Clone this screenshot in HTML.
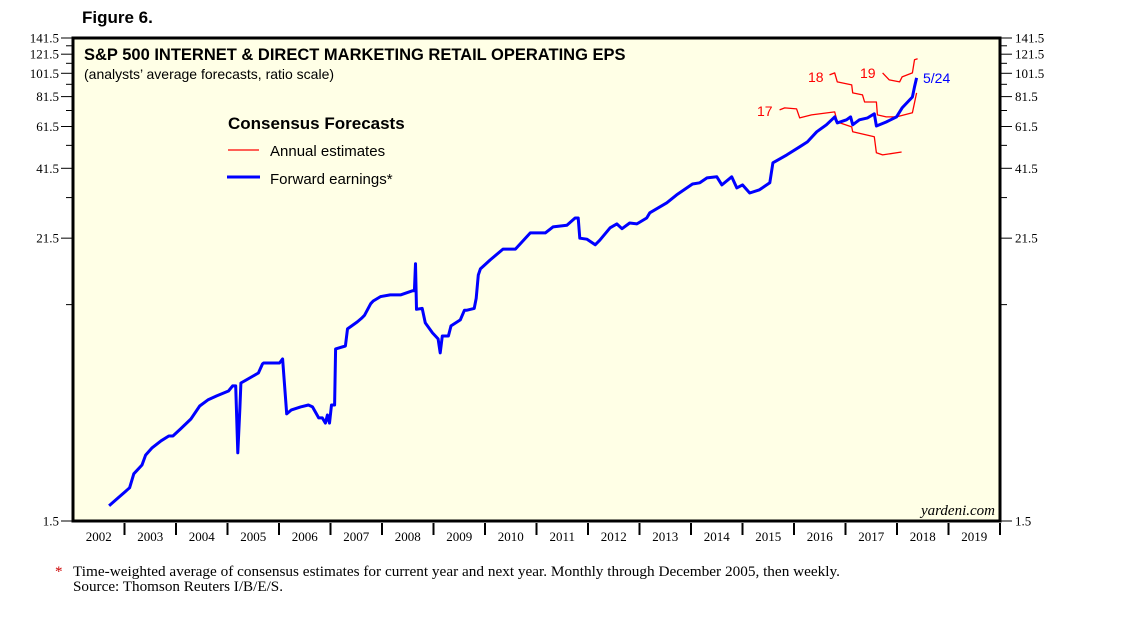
<!DOCTYPE html>
<html><head><meta charset="utf-8"><style>
html,body{margin:0;padding:0;background:#fff;width:1138px;height:621px;overflow:hidden}
svg text{font-family:"Liberation Sans",sans-serif}
.serif{font-family:"Liberation Serif",serif !important}
</style></head><body>
<svg id="chart" width="1138" height="621" xmlns="http://www.w3.org/2000/svg">
<text x="82" y="23" font-size="17" font-weight="bold">Figure 6.</text>
<rect x="73" y="38" width="927" height="483" fill="#ffffe6" stroke="#000" stroke-width="3"/>
<text x="84" y="60" font-size="16.5" font-weight="bold">S&amp;P 500 INTERNET &amp; DIRECT MARKETING RETAIL OPERATING EPS</text>
<text x="84" y="79" font-size="14">(analysts’ average forecasts, ratio scale)</text>
<g>
<text x="228" y="129" font-size="17" font-weight="bold">Consensus Forecasts</text>
<line x1="228" y1="150" x2="259" y2="150" stroke="#f00" stroke-width="1.3"/>
<text x="270" y="156" font-size="15">Annual estimates</text>
<line x1="227" y1="177" x2="260" y2="177" stroke="#00f" stroke-width="3"/>
<text x="270" y="184" font-size="15">Forward earnings*</text>
</g>
<g id="axes"></g>
<g id="series"></g>
<text x="757" y="116" font-size="14" fill="#f00">17</text>
<text x="808" y="82" font-size="14" fill="#f00">18</text>
<text x="860" y="78" font-size="14" fill="#f00">19</text>
<text x="923" y="83" font-size="14" fill="#00f">5/24</text>
<text x="995" y="515" font-size="15" font-style="italic" text-anchor="end" class="serif">yardeni.com</text>
<text x="55" y="576" font-size="15" fill="#c00" class="serif">*</text>
<text x="73" y="576" font-size="15" class="serif" textLength="767" lengthAdjust="spacingAndGlyphs">Time-weighted average of consensus estimates for current year and next year. Monthly through December 2005, then weekly.</text>
<text x="73" y="591" font-size="15" class="serif" textLength="210" lengthAdjust="spacingAndGlyphs">Source: Thomson Reuters I/B/E/S.</text>
</svg>
<script>
const yearLabels=[2002,2003,2004,2005,2006,2007,2008,2009,2010,2011,2012,2013,2014,2015,2016,2017,2018,2019];
const yTickLabels=[1.5,21.5,41.5,61.5,81.5,101.5,121.5,141.5];
const yMinorTicks=[11.5,31.5,51.5,71.5,91.5,111.5,131.5];
const fwdDates=[2002.70,2002.87,2003.10,2003.18,2003.34,2003.41,2003.53,2003.71,2003.86,2003.94,2004.09,2004.29,2004.46,2004.62,2004.79,2005.02,2005.10,2005.16,2005.20,2005.24,2005.26,2005.60,2005.68,2005.70,2006.01,2006.07,2006.15,2006.24,2006.42,2006.57,2006.65,2006.77,2006.84,2006.90,2006.94,2006.98,2007.02,2007.08,2007.10,2007.29,2007.33,2007.52,2007.60,2007.66,2007.78,2007.83,2007.97,2008.16,2008.36,2008.59,2008.63,2008.65,2008.67,2008.78,2008.84,2008.98,2009.09,2009.13,2009.17,2009.29,2009.34,2009.52,2009.60,2009.64,2009.79,2009.83,2009.87,2009.91,2010.10,2010.35,2010.59,2010.88,2010.97,2011.17,2011.32,2011.59,2011.75,2011.81,2011.84,2011.98,2012.14,2012.23,2012.43,2012.56,2012.66,2012.81,2012.95,2013.14,2013.20,2013.53,2013.72,2014.03,2014.17,2014.31,2014.50,2014.60,2014.79,2014.89,2015.00,2015.14,2015.33,2015.53,2015.59,2015.86,2016.11,2016.26,2016.44,2016.63,2016.79,2016.84,2017.02,2017.10,2017.14,2017.27,2017.43,2017.56,2017.60,2017.79,2017.99,2018.10,2018.30,2018.34,2018.38];
const fwdValues=[1.73,1.86,2.05,2.34,2.54,2.79,2.98,3.19,3.34,3.34,3.57,3.92,4.43,4.69,4.87,5.10,5.35,5.35,2.85,4.35,5.50,6.04,6.58,6.64,6.64,6.90,4.11,4.27,4.39,4.47,4.39,3.96,3.96,3.77,4.07,3.77,4.47,4.47,7.58,7.79,9.15,9.77,10.1,10.4,11.6,11.9,12.4,12.6,12.6,13.1,13.1,16.9,11.0,11.1,9.68,8.81,8.33,7.30,8.56,8.56,9.41,9.96,10.9,10.9,11.1,12.2,15.2,16.1,17.5,19.4,19.4,22.6,22.6,22.6,23.9,24.3,26.0,26.0,21.5,21.3,20.2,21.1,23.7,24.6,23.5,24.8,24.6,26.0,27.3,30.0,32.3,35.8,36.2,37.9,38.3,35.5,38.3,34.5,35.5,32.9,33.9,36.2,43.7,47.1,50.8,53.2,58.5,62.5,67.3,63.6,65.5,67.3,62.5,65.5,66.7,69.3,61.8,64.2,67.3,73.3,81.2,89.3,97.2];
const est17Dates=[2015.72,2015.82,2016.05,2016.11,2016.34,2016.79,2016.84,2017.12,2017.14,2017.56,2017.60,2017.72,2018.09];
const est17Values=[71.9,73.3,72.6,66.7,68.6,70.6,64.2,61.3,58.5,55.8,48.0,47.1,48.4];
const est18Dates=[2016.69,2016.79,2016.84,2017.12,2017.14,2017.33,2017.37,2017.60,2017.62,2017.79,2017.99,2018.30,2018.38];
const est18Values=[100.0,101.9,93.6,91.0,84.4,82.8,77.5,77.5,68.6,67.3,67.3,70.0,84.4];
const est19Dates=[2017.72,2017.85,2018.05,2018.10,2018.30,2018.34,2018.40];
const est19Values=[101.9,95.4,93.6,98.1,101.9,115.2,116.3];

const NS="http://www.w3.org/2000/svg";
const X0=73,X1=1000,Y0=521,Y1=38,T0=2002,T1=2020,V0=1.5,V1=141.5;
function xs(t){return X0+(t-T0)/(T1-T0)*(X1-X0);}
function ys(v){return Y0-Math.log(v/V0)/Math.log(V1/V0)*(Y0-Y1);}
function mk(tag,attrs,parent){const e=document.createElementNS(NS,tag);for(const k in attrs)e.setAttribute(k,attrs[k]);parent.appendChild(e);return e;}
const axes=document.getElementById('axes'),ser=document.getElementById('series');
yTickLabels.forEach(v=>{
  const y=ys(v);
  const l=mk('line',{x1:61,y1:y,x2:73,y2:y,stroke:'#000','stroke-width':1},axes);
  
  
  const r=mk('line',{x1:1000,y1:y,x2:1012,y2:y,stroke:'#000','stroke-width':1},axes);
  
  
  const tl=mk('text',{x:59,y:y+4.5,'font-size':13,'text-anchor':'end',class:'serif'},axes);
  tl.textContent=v.toFixed(1);
  
  
  const tr=mk('text',{x:1015,y:y+4.5,'font-size':13,class:'serif'},axes);
  tr.textContent=v.toFixed(1);
  
  
});
yMinorTicks.forEach(v=>{
  const y=ys(v);
  const l=mk('line',{x1:66,y1:y,x2:73,y2:y,stroke:'#000','stroke-width':1},axes);
  
  
  const r=mk('line',{x1:1000,y1:y,x2:1007,y2:y,stroke:'#000','stroke-width':1},axes);
  
  
});
yearLabels.forEach((yr,i)=>{
  const xb=xs(yr);
  if(i>0){
    const t=mk('line',{x1:xb,y1:523,x2:xb,y2:535,stroke:'#000','stroke-width':2},axes);
    
    
  }
  const lb=mk('text',{x:xs(yr+0.5),y:541,'font-size':13,'text-anchor':'middle',class:'serif'},axes);
  lb.textContent=yr;
  
  
});
const te=mk('line',{x1:xs(2020),y1:523,x2:xs(2020),y2:535,stroke:'#000','stroke-width':2},axes);


function line(dates,vals,color,w,name){
  const d=dates.map((t,i)=>(i?'L':'M')+xs(t).toFixed(1)+' '+ys(vals[i]).toFixed(1)).join(' ');
  const p=mk('path',{d:d,fill:'none',stroke:color,'stroke-width':w,'stroke-linejoin':'round'},ser);
  
  
}
line(est17Dates,est17Values,'#f00',1.3,'annual-estimate-2017-line');
line(est18Dates,est18Values,'#f00',1.3,'annual-estimate-2018-line');
line(est19Dates,est19Values,'#f00',1.3,'annual-estimate-2019-line');
line(fwdDates,fwdValues,'#00f',3,'forward-earnings-line');
</script>
</body></html>
